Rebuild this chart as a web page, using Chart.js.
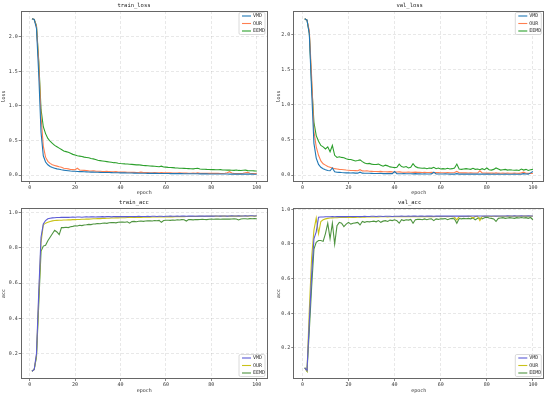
<!DOCTYPE html>
<html>
<head>
<meta charset="utf-8">
<script src="https://cdn.jsdelivr.net/npm/chart.js@4.4.1/dist/chart.umd.min.js"></script>
<style>
  html, body { margin: 0; padding: 0; background: #fff; }
  #wrap { position: relative; width: 550px; height: 397px; }
  canvas { position: absolute; }
</style>
</head>
<body>
<div id="wrap">
  <canvas id="trainLoss" width="275" height="197" style="left:0;top:0"></canvas>
  <canvas id="valLoss" width="275" height="197" style="left:275px;top:0"></canvas>
  <canvas id="trainAcc" width="275" height="200" style="left:0;top:197px"></canvas>
  <canvas id="valAcc" width="275" height="200" style="left:275px;top:197px"></canvas>
</div>
<script>
// epoch 1..100
const epochs = Array.from({ length: 100 }, (_, i) => i + 1);
const seriesNames = ['VMD', 'OUR', 'EEMD'];
const xTicks = [0, 20, 40, 60, 80, 100];
const lossTicks = [0, 0.5, 1.0, 1.5, 2.0];
const accTicks = [0.2, 0.4, 0.6, 0.8, 1.0];

// train_loss
const trainLossVMD = [
  2.26, 2.25, 2.12, 1.45, 0.62, 0.28, 0.19, 0.15, 0.125, 0.11,
  0.1, 0.09, 0.085, 0.078, 0.072, 0.068, 0.064, 0.06, 0.057, 0.055,
  0.053, 0.051, 0.05, 0.048, 0.047, 0.045, 0.044, 0.043, 0.042, 0.041,
  0.04, 0.039, 0.038, 0.037, 0.037, 0.036, 0.035, 0.034, 0.034, 0.033,
  0.032, 0.032, 0.031, 0.03, 0.03, 0.029, 0.029, 0.028, 0.028, 0.027,
  0.027, 0.026, 0.026, 0.025, 0.025, 0.025, 0.024, 0.024, 0.023, 0.023,
  0.023, 0.022, 0.022, 0.022, 0.021, 0.021, 0.021, 0.02, 0.02, 0.02,
  0.02, 0.019, 0.019, 0.019, 0.018, 0.018, 0.018, 0.018, 0.017, 0.017,
  0.017, 0.017, 0.016, 0.016, 0.016, 0.016, 0.016, 0.015, 0.015, 0.015,
  0.015, 0.015, 0.014, 0.014, 0.014, 0.014, 0.014, 0.014, 0.013, 0.013
];
const trainLossOUR = [
  2.26, 2.25, 2.15, 1.62, 0.85, 0.42, 0.26, 0.2, 0.17, 0.15,
  0.14, 0.13, 0.12, 0.115, 0.1, 0.095, 0.09, 0.082, 0.08, 0.078,
  0.1, 0.075, 0.07, 0.068, 0.066, 0.062, 0.06, 0.064, 0.058, 0.056,
  0.055, 0.053, 0.052, 0.056, 0.05, 0.048, 0.047, 0.05, 0.045, 0.044,
  0.043, 0.045, 0.042, 0.041, 0.04, 0.042, 0.039, 0.038, 0.043, 0.037,
  0.036, 0.038, 0.035, 0.035, 0.037, 0.034, 0.033, 0.036, 0.033, 0.032,
  0.032, 0.034, 0.031, 0.031, 0.03, 0.033, 0.03, 0.029, 0.031, 0.028,
  0.028, 0.03, 0.027, 0.032, 0.027, 0.026, 0.028, 0.026, 0.025, 0.027,
  0.025, 0.025, 0.028, 0.024, 0.024, 0.026, 0.035, 0.05, 0.03, 0.024,
  0.022, 0.024, 0.022, 0.026, 0.035, 0.04, 0.028, 0.023, 0.022, 0.024
];
const trainLossEEMD = [
  2.26, 2.25, 2.16, 1.65, 0.95, 0.7, 0.6, 0.53, 0.49, 0.46,
  0.43, 0.41, 0.39, 0.37, 0.35, 0.34, 0.33, 0.315, 0.3, 0.29,
  0.28, 0.275, 0.27, 0.26, 0.255, 0.25, 0.24, 0.235, 0.225, 0.215,
  0.21, 0.205, 0.2, 0.195, 0.19, 0.185, 0.18, 0.178, 0.172, 0.168,
  0.165, 0.162, 0.16, 0.158, 0.155, 0.152, 0.148, 0.15, 0.145, 0.14,
  0.138, 0.135, 0.132, 0.13, 0.128, 0.125, 0.122, 0.13, 0.118, 0.115,
  0.112, 0.11, 0.108, 0.105, 0.103, 0.1, 0.099, 0.098, 0.096, 0.094,
  0.092, 0.09, 0.095, 0.1, 0.088, 0.086, 0.085, 0.083, 0.082, 0.08,
  0.079, 0.078, 0.077, 0.079, 0.075, 0.074, 0.073, 0.072, 0.07, 0.069,
  0.075, 0.068, 0.066, 0.07, 0.072, 0.065, 0.064, 0.063, 0.061, 0.06
];

// val_loss
const valLossVMD = [
  2.22, 2.2, 2.0, 1.2, 0.45, 0.24, 0.15, 0.11, 0.09, 0.075,
  0.065, 0.06, 0.1, 0.045, 0.04, 0.038, 0.035, 0.033, 0.03, 0.03,
  0.028, 0.03, 0.027, 0.026, 0.04, 0.026, 0.025, 0.024, 0.024, 0.023,
  0.022, 0.022, 0.021, 0.025, 0.02, 0.02, 0.019, 0.022, 0.02, 0.05,
  0.02, 0.018, 0.018, 0.02, 0.017, 0.018, 0.017, 0.016, 0.02, 0.016,
  0.016, 0.015, 0.017, 0.015, 0.015, 0.016, 0.04, 0.015, 0.014, 0.014,
  0.014, 0.016, 0.014, 0.013, 0.015, 0.013, 0.02, 0.013, 0.013, 0.014,
  0.013, 0.012, 0.015, 0.012, 0.012, 0.014, 0.012, 0.012, 0.013, 0.012,
  0.012, 0.011, 0.013, 0.011, 0.012, 0.011, 0.011, 0.014, 0.011, 0.011,
  0.011, 0.012, 0.011, 0.011, 0.012, 0.02, 0.015, 0.012, 0.03, 0.05
];
const valLossOUR = [
  2.22, 2.2, 2.05, 1.4, 0.62, 0.4, 0.28, 0.2, 0.16, 0.14,
  0.12, 0.11, 0.1, 0.09, 0.085, 0.08, 0.078, 0.075, 0.07, 0.068,
  0.065, 0.063, 0.062, 0.06, 0.075, 0.058, 0.056, 0.06, 0.054, 0.052,
  0.05, 0.05, 0.048, 0.052, 0.047, 0.046, 0.045, 0.048, 0.044, 0.043,
  0.042, 0.045, 0.041, 0.04, 0.04, 0.042, 0.039, 0.038, 0.041, 0.037,
  0.037, 0.036, 0.038, 0.035, 0.035, 0.037, 0.034, 0.034, 0.036, 0.033,
  0.033, 0.032, 0.034, 0.032, 0.031, 0.035, 0.05, 0.031, 0.03, 0.03,
  0.03, 0.029, 0.032, 0.028, 0.029, 0.028, 0.06, 0.03, 0.028, 0.027,
  0.027, 0.028, 0.026, 0.03, 0.026, 0.025, 0.027, 0.025, 0.028, 0.024,
  0.024, 0.026, 0.024, 0.023, 0.03, 0.04, 0.025, 0.023, 0.025, 0.022
];
const valLossEEMD = [
  2.22, 2.2, 2.02, 1.3, 0.75, 0.56, 0.48, 0.42, 0.4, 0.37,
  0.4, 0.33, 0.42, 0.28, 0.25, 0.26, 0.25, 0.245, 0.23, 0.22,
  0.22, 0.21, 0.2, 0.205, 0.215, 0.19, 0.17, 0.16, 0.165, 0.155,
  0.15, 0.15, 0.155, 0.14, 0.125, 0.14, 0.13, 0.115, 0.11, 0.105,
  0.11, 0.155, 0.12, 0.11, 0.12, 0.1, 0.11, 0.16, 0.12, 0.105,
  0.1, 0.095, 0.1, 0.09, 0.1, 0.095, 0.11, 0.09, 0.1, 0.085,
  0.09, 0.085, 0.095, 0.085, 0.09, 0.1, 0.155, 0.085, 0.08, 0.085,
  0.09, 0.085, 0.08, 0.095, 0.08, 0.085, 0.075, 0.09, 0.075, 0.1,
  0.075, 0.07, 0.08, 0.1, 0.085, 0.07, 0.075, 0.08, 0.07, 0.075,
  0.07, 0.068, 0.072, 0.065, 0.085, 0.07, 0.08, 0.065, 0.075, 0.08
];

// train_acc
const trainAccVMD = [
  0.1, 0.11, 0.2, 0.55, 0.86, 0.935, 0.955, 0.965, 0.968, 0.97,
  0.971, 0.972, 0.972, 0.973, 0.973, 0.974, 0.973, 0.974, 0.975, 0.974,
  0.975, 0.975, 0.974, 0.975, 0.976, 0.975, 0.976, 0.976, 0.975, 0.976,
  0.976, 0.977, 0.976, 0.977, 0.977, 0.976, 0.977, 0.977, 0.978, 0.977,
  0.977, 0.978, 0.977, 0.978, 0.978, 0.977, 0.978, 0.979, 0.978, 0.978,
  0.978, 0.979, 0.978, 0.979, 0.979, 0.978, 0.979, 0.979, 0.978, 0.979,
  0.979, 0.98, 0.979, 0.979, 0.98, 0.979, 0.98, 0.98, 0.979, 0.98,
  0.98, 0.98, 0.979, 0.98, 0.981, 0.98, 0.98, 0.981, 0.98, 0.981,
  0.98, 0.981, 0.981, 0.98, 0.981, 0.981, 0.98, 0.981, 0.982, 0.981,
  0.981, 0.982, 0.981, 0.981, 0.982, 0.981, 0.982, 0.982, 0.981, 0.982
];
const trainAccOUR = [
  0.1, 0.11, 0.19, 0.52, 0.83, 0.93, 0.94, 0.945, 0.95, 0.953,
  0.955, 0.956, 0.957, 0.957, 0.958, 0.958, 0.959, 0.959, 0.96, 0.96,
  0.961, 0.961, 0.962, 0.962, 0.963, 0.963, 0.964, 0.965, 0.965, 0.966,
  0.966, 0.967, 0.967, 0.968, 0.968, 0.969, 0.969, 0.97, 0.97, 0.971,
  0.971, 0.971, 0.972, 0.972, 0.972, 0.973, 0.973, 0.974, 0.973, 0.974,
  0.974, 0.975, 0.974, 0.975, 0.975, 0.975, 0.976, 0.976, 0.975, 0.976,
  0.976, 0.977, 0.976, 0.977, 0.977, 0.977, 0.978, 0.977, 0.978, 0.978,
  0.978, 0.978, 0.979, 0.978, 0.979, 0.979, 0.978, 0.979, 0.979, 0.98,
  0.979, 0.98, 0.979, 0.98, 0.98, 0.98, 0.979, 0.98, 0.98, 0.981,
  0.98, 0.981, 0.98, 0.981, 0.981, 0.98, 0.981, 0.981, 0.98, 0.981
];
const trainAccEEMD = [
  0.1, 0.11, 0.18, 0.48, 0.78, 0.81, 0.815, 0.84, 0.86, 0.88,
  0.9, 0.89, 0.875, 0.915, 0.915, 0.917, 0.915, 0.92, 0.922, 0.925,
  0.924, 0.928, 0.926, 0.93, 0.931, 0.933, 0.932, 0.935, 0.936, 0.938,
  0.937, 0.94, 0.941, 0.939, 0.942, 0.943, 0.944, 0.942, 0.945, 0.946,
  0.947, 0.945, 0.948, 0.94, 0.949, 0.95, 0.948, 0.951, 0.952, 0.95,
  0.952, 0.953, 0.954, 0.952, 0.955, 0.954, 0.956, 0.945, 0.955, 0.957,
  0.957, 0.956, 0.958, 0.957, 0.959, 0.958, 0.96, 0.959, 0.952, 0.96,
  0.96, 0.959, 0.961, 0.96, 0.961, 0.962, 0.961, 0.96, 0.962, 0.963,
  0.962, 0.963, 0.963, 0.962, 0.964, 0.963, 0.964, 0.963, 0.964, 0.965,
  0.964, 0.958, 0.964, 0.965, 0.965, 0.964, 0.966, 0.965, 0.966, 0.965
];

// val_acc
const valAccVMD = [
  0.085, 0.07, 0.35, 0.62, 0.83, 0.87, 0.955, 0.956, 0.956, 0.957,
  0.957, 0.957, 0.958, 0.957, 0.958, 0.958, 0.958, 0.959, 0.958, 0.959,
  0.959, 0.958, 0.959, 0.959, 0.958, 0.959, 0.96, 0.959, 0.959, 0.96,
  0.96, 0.959, 0.96, 0.96, 0.959, 0.96, 0.96, 0.96, 0.959, 0.96,
  0.96, 0.96, 0.961, 0.96, 0.96, 0.961, 0.96, 0.961, 0.961, 0.96,
  0.961, 0.961, 0.96, 0.961, 0.961, 0.961, 0.96, 0.961, 0.961, 0.961,
  0.961, 0.962, 0.961, 0.961, 0.961, 0.962, 0.961, 0.961, 0.962, 0.961,
  0.962, 0.961, 0.962, 0.962, 0.961, 0.962, 0.962, 0.962, 0.961, 0.962,
  0.962, 0.962, 0.962, 0.961, 0.962, 0.962, 0.962, 0.962, 0.963, 0.962,
  0.962, 0.963, 0.962, 0.962, 0.963, 0.962, 0.962, 0.963, 0.962, 0.962
];
const valAccOUR = [
  0.085, 0.065, 0.42, 0.72, 0.88, 0.95, 0.86, 0.93, 0.94, 0.945,
  0.948, 0.95, 0.951, 0.952, 0.952, 0.953, 0.953, 0.954, 0.953, 0.954,
  0.954, 0.955, 0.954, 0.955, 0.955, 0.956, 0.955, 0.956, 0.956, 0.956,
  0.956, 0.957, 0.956, 0.957, 0.957, 0.957, 0.956, 0.957, 0.958, 0.957,
  0.957, 0.958, 0.957, 0.958, 0.958, 0.957, 0.958, 0.958, 0.958, 0.957,
  0.958, 0.958, 0.959, 0.958, 0.958, 0.959, 0.958, 0.959, 0.959, 0.958,
  0.959, 0.959, 0.958, 0.959, 0.959, 0.955, 0.94, 0.958, 0.959, 0.959,
  0.959, 0.96, 0.959, 0.95, 0.959, 0.96, 0.935, 0.959, 0.96, 0.96,
  0.96, 0.959, 0.96, 0.96, 0.96, 0.96, 0.96, 0.96, 0.96, 0.961,
  0.96, 0.961, 0.96, 0.961, 0.96, 0.961, 0.961, 0.96, 0.961, 0.96
];
const valAccEEMD = [
  0.085, 0.065, 0.3, 0.55, 0.77, 0.81, 0.82, 0.82, 0.815, 0.86,
  0.92, 0.83, 0.92, 0.8, 0.905, 0.925, 0.92, 0.9, 0.915, 0.925,
  0.915, 0.92, 0.922, 0.925, 0.91, 0.93, 0.925, 0.93, 0.928, 0.93,
  0.932, 0.928, 0.935, 0.925, 0.932, 0.935, 0.93, 0.938, 0.935, 0.94,
  0.935, 0.92, 0.94, 0.935, 0.94, 0.938, 0.942, 0.92, 0.94, 0.942,
  0.943, 0.94, 0.945, 0.94, 0.944, 0.945, 0.935, 0.945, 0.942, 0.946,
  0.945, 0.947, 0.94, 0.946, 0.948, 0.945, 0.92, 0.947, 0.945, 0.948,
  0.946, 0.948, 0.945, 0.95, 0.94, 0.948, 0.95, 0.945, 0.952, 0.955,
  0.95, 0.948, 0.945, 0.93, 0.948, 0.95, 0.952, 0.948, 0.95, 0.952,
  0.95, 0.948, 0.952, 0.95, 0.953, 0.95, 0.952, 0.948, 0.953, 0.94
];

const lossColors = ['#1f77b4', '#ff7f50', '#2ca02c'];
const accColors = ['#5b5bd6', '#c9c21a', '#4f9440'];

const fontFamily = '"DejaVu Sans Mono", monospace';
const smallFont = { family: fontFamily, size: 5, lineHeight: 1.2 };
const textColor = '#333';
const gridColor = 'rgba(0,0,0,0.13)';

// kotak sumbu + legenda digambar sendiri
const framePlugin = {
  id: 'frame',
  afterDatasetsDraw(chart, args, opts) {
    const ctx = chart.ctx;
    const a = chart.chartArea;
    ctx.save();
    ctx.strokeStyle = '#666';
    ctx.lineWidth = 1;
    ctx.strokeRect(Math.round(a.left) + 0.5, Math.round(a.top) + 0.5,
      Math.round(a.right - a.left) - 1, Math.round(a.bottom - a.top) - 1);

    // legend box
    const boxW = 26, boxH = 22;
    const bx = a.right - 3 - boxW;
    const by = opts.where === 'top' ? a.top + 1.5 : a.bottom - 2.5 - boxH;
    ctx.fillStyle = 'rgba(255,255,255,0.85)';
    ctx.strokeStyle = '#d0d0d0';
    ctx.lineWidth = 0.8;
    ctx.beginPath();
    ctx.roundRect(bx, by, boxW, boxH, 1.5);
    ctx.fill();
    ctx.stroke();

    ctx.font = '5px ' + fontFamily;
    ctx.textBaseline = 'middle';
    ctx.textAlign = 'left';
    chart.data.datasets.forEach((ds, i) => {
      const ry = by + 3.5 + i * 7.5;
      ctx.strokeStyle = ds.borderColor;
      ctx.lineWidth = 1.1;
      ctx.beginPath();
      ctx.moveTo(bx + 3, ry);
      ctx.lineTo(bx + 12, ry);
      ctx.stroke();
      ctx.fillStyle = textColor;
      ctx.fillText(ds.label, bx + 14, ry);
    });
    ctx.restore();
  }
};

// batas sumbu y ala matplotlib (margin 5%)
function dataRange(list) {
  const all = [].concat(...list);
  const lo = Math.min(...all);
  const hi = Math.max(...all);
  const pad = (hi - lo) * 0.05;
  return [lo - pad, hi + pad];
}

function makeChart(id, title, yLabel, series, colors, yTicks, legendWhere, yWidth, xHeight, padRight, xTitleBottom) {
  const [yMin, yMax] = dataRange(series);
  const xPad = (epochs[epochs.length - 1] - epochs[0]) * 0.05;
  const ctx = document.getElementById(id).getContext('2d');

  return new Chart(ctx, {
    type: 'line',
    data: {
      datasets: series.map((values, i) => ({
        label: seriesNames[i],
        data: values.map((v, j) => ({ x: epochs[j], y: v })),
        borderColor: colors[i],
        backgroundColor: colors[i],
        borderWidth: 1.1,
        pointRadius: 0,
        tension: 0,
        fill: false
      }))
    },
    options: {
      responsive: false,
      animation: false,
      layout: { padding: { left: 0, right: padRight, top: 0, bottom: 0 } },
      plugins: {
        legend: { display: false },
        tooltip: { enabled: false },
        title: {
          display: true,
          text: title,
          color: '#222',
          font: { family: fontFamily, size: 5.5, lineHeight: 1.2, weight: 'normal' },
          padding: { top: 2.5, bottom: 1.9 }
        },
        frame: { where: legendWhere }
      },
      scales: {
        x: {
          type: 'linear',
          min: epochs[0] - xPad,
          max: epochs[epochs.length - 1] + xPad,
          afterBuildTicks: s => { s.ticks = xTicks.map(v => ({ value: v })); },
          afterFit: s => { s.height = xHeight; },
          grid: { color: gridColor, lineWidth: 0.7, tickColor: '#555', tickLength: 2 },
          border: { display: false, dash: [3, 2] },
          ticks: { font: smallFont, color: textColor, padding: 1, maxRotation: 0, autoSkip: false, callback: v => v },
          title: { display: true, text: 'epoch', font: smallFont, color: textColor, padding: { top: 0, bottom: xTitleBottom } }
        },
        y: {
          min: yMin,
          max: yMax,
          afterBuildTicks: s => { s.ticks = yTicks.map(v => ({ value: v })); },
          afterFit: s => { s.width = yWidth; },
          grid: { color: gridColor, lineWidth: 0.7, tickColor: '#555', tickLength: 2 },
          border: { display: false, dash: [3, 2] },
          ticks: { font: smallFont, color: textColor, padding: 1, autoSkip: false, callback: v => v.toFixed(1) },
          title: { display: true, text: yLabel, font: smallFont, color: textColor, padding: { top: 1, bottom: 0 } }
        }
      }
    },
    plugins: [framePlugin]
  });
}

document.addEventListener('DOMContentLoaded', function () {
  makeChart('trainLoss', 'train_loss', 'loss', [trainLossVMD, trainLossOUR, trainLossEEMD], lossColors, lossTicks, 'top', 20.7, 15, 7, 1);
  makeChart('valLoss', 'val_loss', 'loss', [valLossVMD, valLossOUR, valLossEEMD], lossColors, lossTicks, 'top', 18.3, 15, 5.7, 1);
  makeChart('trainAcc', 'train_acc', 'acc', [trainAccVMD, trainAccOUR, trainAccEEMD], accColors, accTicks, 'bottom', 20.7, 18, 7, 3.5);
  makeChart('valAcc', 'val_acc', 'acc', [valAccVMD, valAccOUR, valAccEEMD], accColors, accTicks, 'bottom', 18.3, 18, 5.7, 3.5);
});
</script>
</body>
</html>
